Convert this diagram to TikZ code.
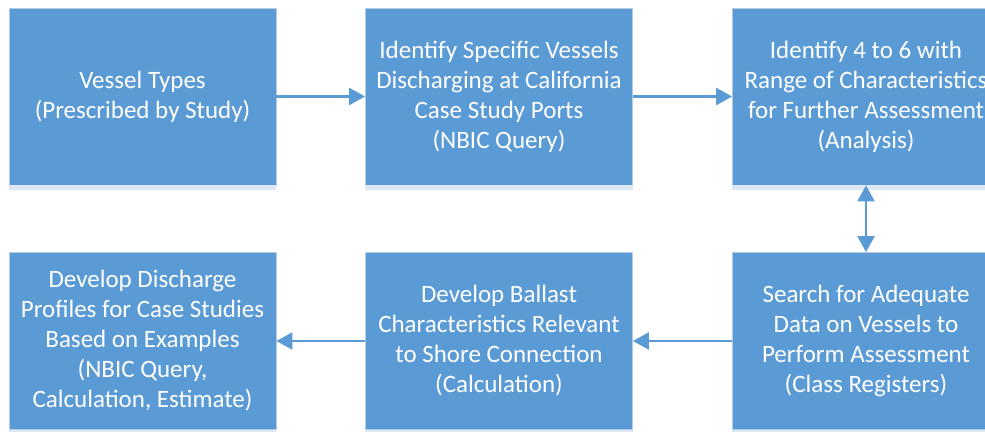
\documentclass[tikz,border=0pt]{standalone}
\usepackage{fontspec}
\setmainfont{Carlito}
\usetikzlibrary{arrows.meta}
\definecolor{boxblue}{HTML}{5B9BD5}
\definecolor{boxedge}{HTML}{B4CBE3}
\definecolor{shadowc}{HTML}{DCE8F5}
\tikzset{
  stepbox/.style={rectangle, fill=boxblue, draw=boxedge, line width=0.8pt,
    minimum width=267pt, minimum height=177pt, inner sep=0pt, align=center,
    text=white, font=\fontsize{25}{30}\selectfont},
  arr/.style={draw=boxblue, line width=2.4pt, -{Triangle[width=17pt,length=16pt]}},
  darr/.style={draw=boxblue, line width=2.4pt, {Triangle[width=17pt,length=16pt]}-{Triangle[width=17pt,length=16pt]}}
}
\begin{document}
\begin{tikzpicture}[x=1pt,y=-1pt]
\useasboundingbox (0,0) rectangle (985,431);
\clip (0,0) rectangle (985,431);
\fill[white] (0,0) rectangle (985,431);
\node[stepbox] (a) at (142.5,96.5) {Vessel Types\\(Prescribed by Study)};
\node[stepbox] (b) at (499,96.5) {Identify Specific Vessels\\Discharging at California\\Case Study Ports\\(NBIC Query)};
\node[stepbox] (c) at (866,96.5) {Identify 4 to 6 with\\Range of Characteristics\\for Further Assessment\\(Analysis)};
\node[stepbox] (f) at (866,341) {Search for Adequate\\Data on Vessels to\\Perform Assessment\\(Class Registers)};
\node[stepbox] (e) at (499,341) {Develop Ballast\\Characteristics Relevant\\to Shore Connection\\(Calculation)};
\node[stepbox] (d) at (142.5,341) {Develop Discharge\\Profiles for Case Studies\\Based on Examples\\(NBIC Query,\\Calculation, Estimate)};
\foreach \n in {a,b,c,d,e,f}{
  \fill[shadowc] ([yshift=-5pt]\n.south west) rectangle (\n.south east);
}
\draw[arr] (a.east) -- (b.west);
\draw[arr] (b.east) -- (c.west);
\draw[darr] (c.south) -- (f.north);
\draw[arr] (f.west) -- (e.east);
\draw[arr] (e.west) -- (d.east);
\end{tikzpicture}
\end{document}
